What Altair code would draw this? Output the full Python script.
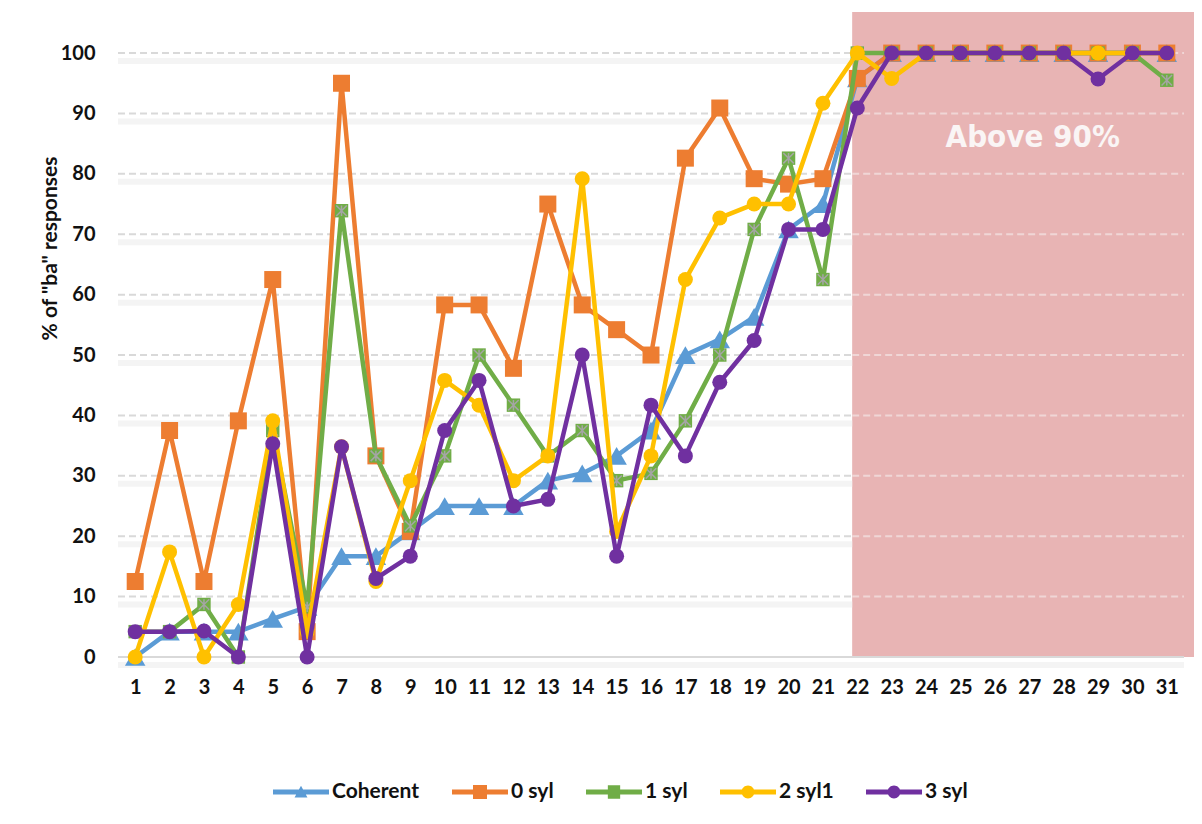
import altair as alt
import pandas as pd

trials = list(range(1, 32))
series_names = ["Coherent", "0 syl", "1 syl", "2 syl1", "3 syl"]
colors = ["#5B9BD5", "#ED7D31", "#70AD47", "#FFC000", "#7030A0"]

coherent = [0, 4.2, 4.2, 4.2, 6.3, 8.3, 16.7, 16.7, 20.8, 25, 25, 25, 29.2, 30.4, 33.3, 37.5,
            50, 52.6, 56.3, 70.8, 75, 95.8, 100, 100, 100, 100, 100, 100, 100, 100, 100]
syl0 = [12.5, 37.5, 12.5, 39.1, 62.5, 4.2, 95, 33.3, 20.8, 58.3, 58.3, 47.8, 75, 58.3, 54.2, 50,
        82.6, 90.9, 79.2, 78.3, 79.2, 95.8, 100, 100, 100, 100, 100, 100, 100, 100, 100]
syl1 = [4.2, 4.2, 8.7, 0, 37.5, 8.3, 73.9, 33.3, 21.7, 33.3, 50, 41.7, 33.3, 37.5, 29.2, 30.4,
        39.1, 50, 70.8, 82.6, 62.5, 100, 100, 100, 100, 100, 100, 100, 100, 100, 95.5]
syl2 = [0, 17.4, 0, 8.7, 39.1, 4.2, 34.8, 12.5, 29.2, 45.8, 41.7, 29.2, 33.3, 79.2, 20.8, 33.3,
        62.5, 72.7, 75, 75, 91.7, 100, 95.8, 100, 100, 100, 100, 100, 100, 100, 100]
syl3 = [4.2, 4.2, 4.3, 0, 35.3, 0, 34.8, 13, 16.7, 37.5, 45.8, 25, 26.1, 50, 16.7, 41.7,
        33.3, 45.5, 52.4, 70.8, 70.8, 90.9, 100, 100, 100, 100, 100, 100, 95.7, 100, 100]

y_ticks = [0, 10, 20, 30, 40, 50, 60, 70, 80, 90, 100]
gridlines = [10, 20, 30, 40, 50, 60, 70, 80, 90, 100]
band_start = 21.85
band_end = 31.96
band_top = 106.8
x_domain = [0.5, 31.5]
y_domain = [0, 106.8]
band_label = "Above 90%"
band_label_pos = (27.1, 86)
y_title = '% of  "ba"  responses'

rows = []
for name, vals in zip(series_names, [coherent, syl0, syl1, syl2, syl3]):
    for t, v in zip(trials, vals):
        rows.append({"trial": t, "pct": v, "series": name})
df = pd.DataFrame(rows)

xs = alt.Scale(domain=x_domain, nice=False, zero=False)
ys = alt.Scale(domain=y_domain, nice=False, zero=True)

x_axis = alt.Axis(values=trials, title=None, grid=False, domain=False, ticks=False,
                  labelFontSize=20, labelFontWeight="bold", labelColor="#111111",
                  labelPadding=20, labelFont="Lato")
y_axis = alt.Axis(values=y_ticks, title=y_title,
                  grid=False, domain=False, ticks=False, labelFontSize=20,
                  labelFontWeight="bold", labelColor="#111111", labelPadding=23, labelFont="Lato",
                  titleFontSize=21, titleFontWeight="bold", titleFont="Lato", titleColor="#111111",
                  titleX=-68, titleY=236, titleAngle=270, titleAlign="center",
                  titleBaseline="middle")


def X(field):
    return alt.X(field, scale=xs, axis=x_axis, title=None)


def Y(field):
    return alt.Y(field, scale=ys, axis=y_axis, title=y_title)


band_df = pd.DataFrame({"x": [band_start], "x2": [band_end], "y": [0], "y2": [band_top]})
band = alt.Chart(band_df).mark_rect(color="#E8B4B4", clip=False).encode(
    x=X("x:Q"), x2="x2:Q", y=Y("y:Q"), y2="y2:Q")

label_df = pd.DataFrame({"x": [band_label_pos[0]], "y": [band_label_pos[1]], "t": [band_label]})
band_text = alt.Chart(label_df).mark_text(
    font="DejaVu Sans Condensed, Roboto", fontSize=31, fontWeight="bold", color="#FAF5F5",
    align="center", baseline="middle").encode(x=X("x:Q"), y=Y("y:Q"), text="t:N")

grid_white = pd.DataFrame({"g": gridlines, "x": x_domain[0], "x2": band_start})
grid_pink = pd.DataFrame({"g": gridlines, "x": band_start, "x2": x_domain[1]})

shadow = alt.Chart(grid_white).mark_rule(color="#F4F4F4", strokeWidth=6, yOffset=8).encode(
    x=X("x:Q"), x2="x2:Q", y=Y("g:Q"))
grid_w = alt.Chart(grid_white).mark_rule(color="#D9D9D9", strokeWidth=2, strokeDash=[7, 4]).encode(
    x=X("x:Q"), x2="x2:Q", y=Y("g:Q"))
grid_p = alt.Chart(grid_pink).mark_rule(color="#F0D6D6", strokeWidth=2, strokeDash=[7, 4]).encode(
    x=X("x:Q"), x2="x2:Q", y=Y("g:Q"))
zero_df = pd.DataFrame({"g": [0], "x": [x_domain[0]], "x2": [x_domain[1]]})
zero_shadow = alt.Chart(zero_df).mark_rule(color="#F4F4F4", strokeWidth=6, yOffset=8).encode(
    x=X("x:Q"), x2="x2:Q", y=Y("g:Q"))
zero_line = alt.Chart(zero_df).mark_rule(color="#D9D9D9", strokeWidth=2).encode(
    x=X("x:Q"), x2="x2:Q", y=Y("g:Q"))

marker_shapes = ["triangle-up", "square", "square", "circle", "circle"]
marker_sizes = [420, 289, 180, 225, 225]

layers = [band, band_text, shadow, zero_shadow, grid_w, grid_p, zero_line]
for name, col, shp, sz in zip(series_names, colors, marker_shapes, marker_sizes):
    sub = alt.Chart(df).transform_filter(alt.datum.series == name)
    line = sub.mark_line(color=col, strokeWidth=4.5, strokeJoin="round").encode(
        x=X("trial:Q"), y=Y("pct:Q"))
    pts = sub.mark_point(color=col, filled=True, opacity=1, shape=shp, size=sz).encode(
        x=X("trial:Q"), y=Y("pct:Q"))
    layers += [line, pts]
    if name == "1 syl":
        star = sub.mark_point(color="#A5A5A5", filled=False, opacity=1, strokeWidth=1.5,
                              shape="M-1,-1L1,1M1,-1L-1,1M0,-1L0,1", size=110).encode(
            x=X("trial:Q"), y=Y("pct:Q"))
        layers.append(star)

# legend symbols: line segment plus marker
bar = "M-1,-0.09H1V0.09H-1Z "
legend_paths = [
    bar + "M-0.23,0.2L0,-0.22L0.23,0.2Z",
    bar + "M-0.25,-0.25H0.25V0.25H-0.25Z",
    bar + "M-0.22,-0.24H0.22V0.24H-0.22Z",
    bar + "M-0.23,0A0.23,0.23 0 1,1 0.23,0A0.23,0.23 0 1,1 -0.23,0Z",
    bar + "M-0.23,0A0.23,0.23 0 1,1 0.23,0A0.23,0.23 0 1,1 -0.23,0Z",
]
legend_layer = alt.Chart(df).transform_filter("false").mark_point(filled=True, opacity=1).encode(
    x=X("trial:Q"), y=Y("pct:Q"),
    color=alt.Color("series:N", scale=alt.Scale(domain=series_names, range=colors),
                    legend=alt.Legend(title=None, orient="none", legendX=155, legendY=752,
                                      direction="horizontal", symbolSize=3136,
                                      symbolStrokeWidth=0, symbolOpacity=1,
                                      labelFont="Lato", labelFontSize=21, labelFontWeight="bold",
                                      labelColor="#111111", columnPadding=32, labelOffset=3)),
    shape=alt.Shape("series:N", scale=alt.Scale(domain=series_names, range=legend_paths)),
)
layers.append(legend_layer)

chart = alt.layer(*layers).properties(
    width=1066, height=645,
    padding={"left": 110, "top": 4, "right": 10, "bottom": 150},
    autosize=alt.AutoSizeParams(type="none"),
).configure(font="Lato", background="white").configure_view(strokeWidth=0, stroke="transparent")

chart.save("out.html", embed_options={"renderer": "svg", "actions": False})
